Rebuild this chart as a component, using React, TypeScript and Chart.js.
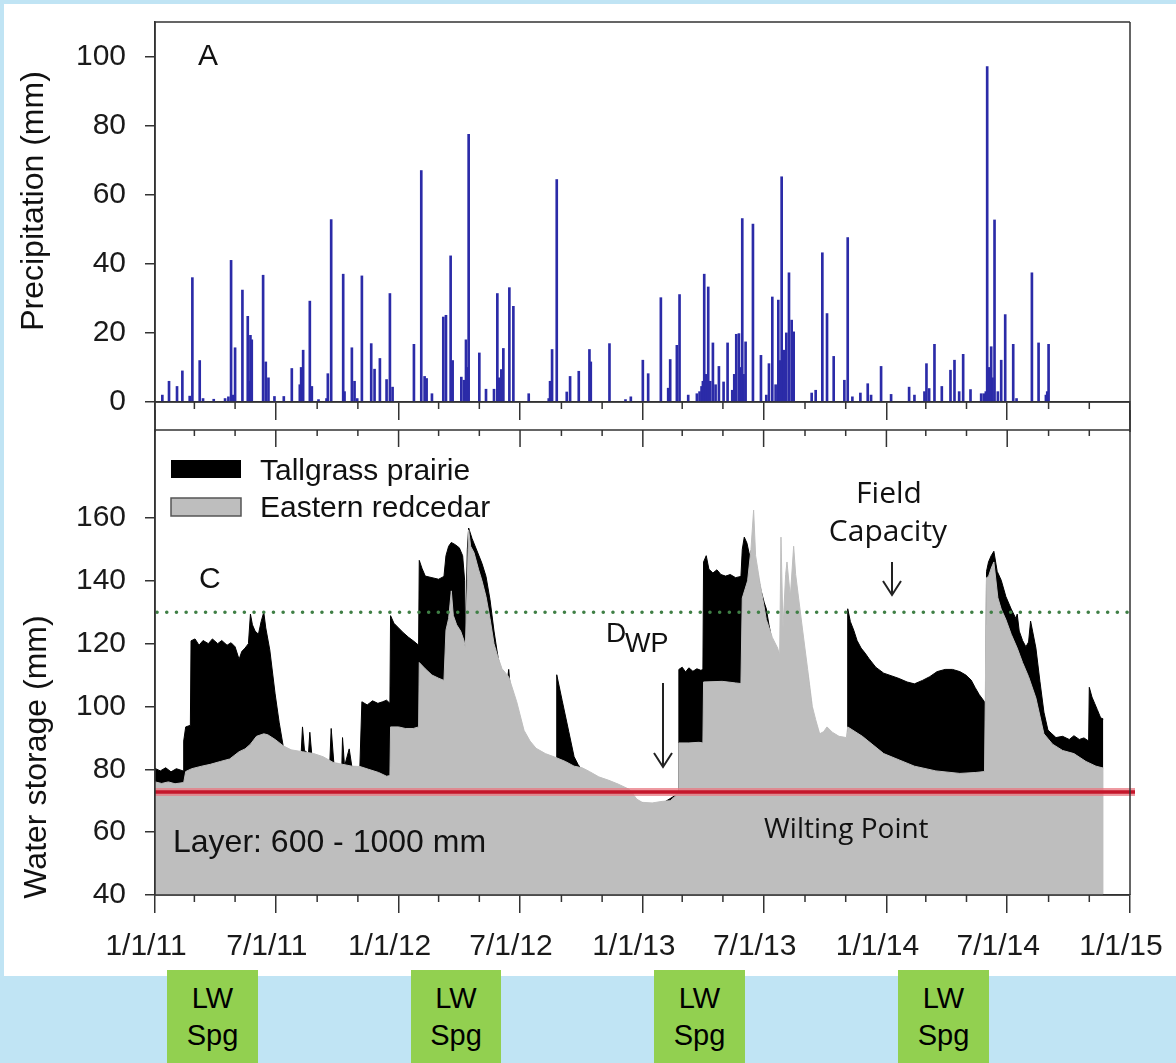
import React, { useEffect, useRef } from 'react';
import { Chart, registerables } from 'chart.js';

Chart.register(...registerables);

const FONT = '"Liberation Sans", Arial, Helvetica, sans-serif';
const NOTE_FONT = '"Open Sans", "Noto Sans", sans-serif';
const AXIS = '#333333';
const TEXT = '#111111';

// ---- axes (days since 1/1/2011) ----
const majorTickDays = [0, 181, 365, 547, 731, 912, 1096, 1277, 1461];
const majorTickLabels = ['1/1/11', '7/1/11', '1/1/12', '7/1/12', '1/1/13', '7/1/13', '1/1/14', '7/1/14', '1/1/15'];
const minorTickDays = [59, 120, 243, 304, 425, 486, 609, 670, 790, 851, 974, 1035, 1155, 1216, 1339, 1400];
const precipTicks = [0, 20, 40, 60, 80, 100];
const storageTicks = [40, 60, 80, 100, 120, 140, 160];

// ---- panel A: daily precipitation (mm) ----
const precipDays = [11, 21, 33, 41, 52, 56, 67, 72, 88, 105, 110, 114, 117, 120, 131, 139, 141, 143, 145, 162, 166, 170, 179, 193, 205, 217, 219, 222, 232, 235, 245, 257, 259, 264, 282, 284, 295, 299, 303, 310, 324, 329, 337, 347, 352, 356, 388, 399, 404, 407, 415, 432, 436, 443, 446, 459, 463, 466, 468, 470, 486, 496, 508, 513, 516, 519, 522, 531, 537, 560, 590, 592, 595, 602, 617, 622, 635, 651, 653, 681, 705, 713, 731, 739, 758, 769, 772, 782, 786, 799, 812, 816, 819, 821, 823, 826, 829, 832, 836, 840, 845, 852, 858, 865, 868, 871, 875, 878, 880, 882, 885, 896, 908, 916, 920, 925, 930, 934, 936, 939, 942, 946, 950, 954, 957, 984, 990, 1000, 1007, 1017, 1033, 1038, 1045, 1057, 1068, 1073, 1088, 1103, 1130, 1138, 1153, 1156, 1160, 1168, 1179, 1192, 1198, 1205, 1211, 1222, 1238, 1242, 1245, 1247, 1250, 1253, 1255, 1258, 1263, 1268, 1274, 1286, 1291, 1314, 1324, 1335, 1337, 1339];
const precipVals = [2, 6, 4.5, 9, 1.7, 36, 12, 1, 0.8, 1, 1.5, 41, 2, 15.7, 32.4, 24.8, 6, 19.3, 18, 36.7, 11.6, 7, 1.6, 1.6, 9.7, 5, 10, 15, 29.2, 4.5, 0.7, 1, 8.2, 52.8, 37, 3, 15.7, 6, 1, 36.5, 16.9, 9.5, 12.6, 6.5, 31.4, 4.3, 16.7, 67, 7.4, 6.8, 2.4, 24.6, 25.1, 42.3, 12, 7.2, 6.3, 18, 10, 77.5, 14.2, 3.7, 3.7, 31.4, 7, 9.4, 15.5, 33.1, 27.7, 2.4, 1, 6, 15.2, 64.4, 2.9, 7.4, 8.9, 15.2, 11.6, 16.9, 0.7, 1.5, 12.1, 8.2, 30.2, 4, 12.3, 16.4, 31.1, 2, 2.4, 3, 4.5, 6, 37, 8, 33.3, 6, 17.1, 5, 10.3, 5.8, 17.1, 3.4, 8, 19.6, 19.8, 10, 53.1, 8, 17.4, 51.5, 13.5, 2, 11.1, 30.4, 5, 29.5, 12, 65.2, 15, 20, 37.4, 23.7, 20.3, 2.6, 3.4, 43.2, 25.6, 13.2, 6.3, 47.6, 1.5, 2.6, 5.3, 2, 10.3, 2.2, 4.3, 2, 3, 11.1, 3.9, 16.7, 4.5, 9.2, 12.1, 3, 13.8, 3.6, 2.4, 2.4, 3, 97.1, 10, 16, 7, 52.7, 3, 12.1, 25.3, 16.7, 1, 37.4, 17.1, 2, 3, 16.7];

// ---- panel C: water storage 600-1000 mm (mm) ----
const cedarDays = [0, 10, 20, 30, 43, 46, 55, 70, 83, 98, 112, 126, 135, 143, 152, 163, 169, 180, 192, 204, 221, 238, 252, 267, 281, 295, 307, 320, 335, 347, 352, 353, 365, 375, 387, 395, 396, 405, 415, 425, 433, 436, 440, 444, 447, 452, 458, 463, 465, 468, 470, 473, 478, 485, 490, 496, 502, 508, 513, 520, 530, 542, 553, 562, 571, 585, 599, 615, 628, 640, 651, 665, 680, 694, 711, 715, 722, 730, 745, 760, 772, 780, 784, 785, 800, 815, 821, 822, 850, 870, 878, 880, 888, 893, 897, 900, 906, 916, 925, 933, 936, 938, 941, 945, 947, 952, 957, 960, 970, 978, 985, 990, 996, 1002, 1007, 1015, 1025, 1036, 1038, 1060, 1092, 1115, 1138, 1170, 1206, 1230, 1243, 1246, 1249, 1253, 1257, 1263, 1268, 1275, 1283, 1292, 1300, 1309, 1320, 1332, 1345, 1360, 1377, 1395, 1410, 1421];
const cedarVals = [76, 75.5, 76, 75.4, 75.8, 79.3, 80.2, 81, 81.6, 82.5, 83.3, 85.6, 86.5, 88, 90.5, 91.3, 91, 89.5, 87.5, 86.2, 85.6, 85, 84, 82.2, 81.6, 81, 80.9, 80, 79, 77.8, 78, 93.5, 93.5, 93, 93, 93.5, 114, 112, 110, 109, 108.3, 124.3, 128, 136.8, 129, 126, 124, 121, 118.6, 140, 156.2, 151, 149, 143.5, 140, 135, 128, 120, 116.3, 112, 109.5, 101.5, 92.4, 89, 86.7, 85, 83.9, 82.5, 81, 80.5, 79.3, 77.6, 76.5, 75.3, 73.6, 72.5, 70.5, 69.5, 69.3, 69.8, 70, 71.5, 73, 88.4, 88.4, 88.6, 88.4, 107.8, 108, 107.5, 107.3, 134.5, 140, 150, 162.5, 148, 140, 127.7, 122, 118.6, 116.3, 153.9, 125, 142, 146, 135, 151, 142, 125, 111.8, 100, 95.8, 91.3, 92, 93.5, 91.8, 90.5, 90.1, 93.5, 90.5, 85, 83, 81, 79.5, 78.7, 79, 79.3, 141, 141.4, 144, 146, 134.6, 131, 127.7, 123, 118.6, 114, 109.5, 102.7, 91.3, 88, 86, 85, 82.5, 81, 80.4];

const prairieDays = [0, 8, 16, 24, 32, 42, 43, 46, 53, 54, 60, 66, 72, 80, 86, 94, 100, 108, 114, 120, 126, 130, 135, 140, 143, 146, 150, 155, 159, 163, 166, 172, 180, 186, 192, 200, 219, 221, 224, 230, 232, 235, 262, 264, 268, 280, 281, 284, 291, 295, 306, 307, 310, 318, 326, 334, 341, 347, 352, 353, 358, 365, 372, 380, 387, 395, 396, 400, 405, 415, 425, 433, 436, 440, 444, 450, 456, 461, 464, 465, 466, 468, 470, 475, 485, 490, 496, 502, 508, 513, 518, 528, 530, 532, 542, 553, 571, 599, 601, 602, 610, 620, 628, 634, 640, 651, 694, 722, 740, 759, 782, 784, 785, 790, 795, 800, 806, 812, 818, 821, 822, 826, 830, 836, 842, 848, 855, 862, 870, 878, 880, 883, 887, 891, 894, 898, 903, 908, 913, 916, 920, 925, 933, 936, 940, 950, 960, 970, 978, 985, 990, 996, 1007, 1015, 1025, 1037, 1038, 1042, 1047, 1052, 1058, 1064, 1070, 1080, 1092, 1103, 1115, 1127, 1138, 1150, 1161, 1172, 1184, 1195, 1206, 1215, 1223, 1229, 1235, 1243, 1245, 1246, 1249, 1253, 1257, 1262, 1268, 1275, 1283, 1290, 1292, 1295, 1300, 1305, 1309, 1312, 1315, 1320, 1326, 1332, 1338, 1344, 1350, 1360, 1370, 1377, 1385, 1392, 1399, 1400, 1404, 1408, 1412, 1417, 1421];
const prairieVals = [80.3, 79.5, 80.5, 79.2, 80.2, 79.5, 89, 93.5, 94, 120.9, 121.5, 119.5, 121, 120, 121.5, 120, 121, 119.5, 120.3, 119, 115, 117.5, 118.6, 120, 129.4, 126, 124, 123, 127, 130, 125, 118, 104, 95, 87.5, 85.5, 85, 93.5, 86, 85, 91.8, 84.5, 82.5, 93, 82, 81.3, 90.1, 81, 86.5, 80.8, 80.5, 81, 101.5, 100.5, 101.8, 101, 101.5, 102, 101, 128.9, 126.5, 125, 123.5, 122, 120.9, 119.5, 146.5, 144, 141.5, 141, 140.5, 141.4, 148, 151, 152.2, 151.5, 150.5, 148, 140, 119, 119, 150, 156.8, 153.5, 148.2, 145.5, 141.4, 134, 124, 117, 111, 108, 111.8, 107, 100, 91, 85.5, 83, 83, 110.1, 102, 92, 84, 81.5, 79.8, 78.5, 74.5, 70, 68.5, 69, 72, 72.5, 111.8, 112.5, 111, 112.3, 111.2, 112, 111.5, 111.8, 146, 148, 143.7, 142.5, 143.5, 142, 141.5, 142, 141, 141.4, 150, 153.9, 152, 148, 150, 146, 142, 137, 133, 131.1, 126, 120.5, 117.5, 115.5, 115, 118, 125, 118, 110, 98, 94.5, 90.5, 92.5, 91, 89.5, 89.3, 131.1, 127, 124.3, 121, 118.6, 117, 115.2, 112.5, 110.6, 109.8, 108.9, 107.8, 107.2, 108.3, 109.5, 111.1, 111.8, 111.8, 111.1, 110, 108.4, 106, 103.8, 101.5, 101, 143, 146, 148, 149.4, 143, 140.2, 135, 131, 128, 129.4, 124, 121, 119, 120.5, 127.2, 124, 118.6, 108, 98.2, 92.5, 91.3, 90.1, 90.5, 89.5, 90.7, 89.5, 90, 89, 106.1, 103, 101, 99, 96.4, 96];

const wiltingPoint = 72.8;
const fieldCapacity = 130;

const springBoxes = [
  { left: 167, width: 91 },
  { left: 411, width: 90 },
  { left: 654, width: 91 },
  { left: 898, width: 91 },
];

const toXY = (days: number[], vals: number[]) => days.map((d, i) => ({ x: d, y: vals[i] }));

const zeroPad = (s: any) => {
  s.paddingTop = 0;
  s.paddingBottom = 0;
  s.paddingLeft = 0;
  s.paddingRight = 0;
};

function arrowDown(ctx: CanvasRenderingContext2D, x: number, y0: number, y1: number) {
  ctx.beginPath();
  ctx.moveTo(x, y0);
  ctx.lineTo(x, y1);
  ctx.moveTo(x - 9, y1 - 14);
  ctx.lineTo(x, y1);
  ctx.lineTo(x + 9, y1 - 14);
  ctx.stroke();
}

const panelAPlugin = {
  id: 'panelA',
  afterDraw(chart: any) {
    const { ctx, chartArea } = chart;
    const { left, right, top, bottom } = chartArea;
    const xs = chart.scales.x;
    ctx.save();
    ctx.strokeStyle = AXIS;
    ctx.lineWidth = 1.5;
    ctx.beginPath();
    ctx.moveTo(left, bottom);
    ctx.lineTo(right, bottom);
    ctx.moveTo(left, top);
    ctx.lineTo(right, top);
    ctx.moveTo(right, top);
    ctx.lineTo(right, chart.height);
    ctx.moveTo(left, top);
    ctx.lineTo(left, chart.height);
    minorTickDays.forEach((d) => {
      const p = xs.getPixelForValue(d);
      ctx.moveTo(p, bottom);
      ctx.lineTo(p, bottom + 7);
    });
    ctx.stroke();

    ctx.fillStyle = TEXT;
    ctx.font = '30px ' + FONT;
    ctx.textAlign = 'left';
    ctx.textBaseline = 'alphabetic';
    ctx.fillText('A', 198, 65);

    ctx.translate(34, 201);
    ctx.rotate(-Math.PI / 2);
    ctx.textAlign = 'center';
    ctx.textBaseline = 'middle';
    ctx.font = '32px ' + FONT;
    ctx.fillText('Precipitation (mm)', 0, 0);
    ctx.restore();
  },
};

const panelCPlugin = {
  id: 'panelC',
  afterDraw(chart: any) {
    const { ctx, chartArea } = chart;
    const { left, right, top, bottom } = chartArea;
    const xs = chart.scales.x;
    const ys = chart.scales.y;
    ctx.save();

    // wilting point (red) and field capacity (green dotted)
    const yWP = ys.getPixelForValue(wiltingPoint);
    ctx.lineCap = 'butt';
    ctx.strokeStyle = 'rgba(232, 120, 130, 0.75)';
    ctx.lineWidth = 8;
    ctx.beginPath();
    ctx.moveTo(left, yWP);
    ctx.lineTo(right + 5, yWP);
    ctx.stroke();
    ctx.strokeStyle = '#C5162B';
    ctx.lineWidth = 3.5;
    ctx.beginPath();
    ctx.moveTo(left, yWP);
    ctx.lineTo(right + 5, yWP);
    ctx.stroke();

    const yFC = ys.getPixelForValue(fieldCapacity);
    ctx.strokeStyle = '#3F7F45';
    ctx.lineWidth = 3.5;
    ctx.lineCap = 'round';
    ctx.setLineDash([0.1, 9.6]);
    ctx.beginPath();
    ctx.moveTo(left + 2, yFC);
    ctx.lineTo(right, yFC);
    ctx.stroke();
    ctx.setLineDash([]);
    ctx.lineCap = 'butt';

    // frame and ticks
    ctx.strokeStyle = AXIS;
    ctx.lineWidth = 1.5;
    ctx.beginPath();
    ctx.moveTo(left, 0);
    ctx.lineTo(left, bottom);
    ctx.lineTo(right, bottom);
    ctx.moveTo(left, top);
    ctx.lineTo(right, top);
    ctx.moveTo(right, 0);
    ctx.lineTo(right, bottom);
    majorTickDays.forEach((d) => {
      const p = xs.getPixelForValue(d);
      ctx.moveTo(p, top);
      ctx.lineTo(p, top + 17);
    });
    minorTickDays.forEach((d) => {
      const p = xs.getPixelForValue(d);
      ctx.moveTo(p, top);
      ctx.lineTo(p, top + 6);
      ctx.moveTo(p, bottom);
      ctx.lineTo(p, bottom + 7);
    });
    ctx.stroke();

    // legend
    ctx.fillStyle = '#000';
    ctx.fillRect(171, 50, 70, 18);
    ctx.fillStyle = '#BEBEBE';
    ctx.fillRect(171, 88, 70, 18);
    ctx.strokeStyle = '#555';
    ctx.lineWidth = 1.5;
    ctx.strokeRect(171, 88, 70, 18);
    ctx.fillStyle = TEXT;
    ctx.font = '30px ' + FONT;
    ctx.textAlign = 'left';
    ctx.textBaseline = 'alphabetic';
    ctx.fillText('Tallgrass prairie', 260, 70);
    ctx.fillText('Eastern redcedar', 260, 107);

    // panel letter and layer note
    ctx.fillText('C', 199, 178);
    ctx.font = '32px ' + FONT;
    ctx.fillText('Layer: 600 - 1000 mm', 173, 442);

    // D_WP
    ctx.font = '28px ' + FONT;
    ctx.fillText('D', 606, 232);
    ctx.font = '27px ' + FONT;
    ctx.fillText('WP', 625, 242);
    ctx.strokeStyle = '#222';
    ctx.lineWidth = 2;
    arrowDown(ctx, 663, 273, 357);

    // field capacity / wilting point notes
    ctx.font = '30px ' + NOTE_FONT;
    ctx.textAlign = 'center';
    ctx.fillText('Field', 889, 93);
    ctx.fillText('Capacity', 888, 131);
    arrowDown(ctx, 892, 152, 185);
    ctx.textAlign = 'left';
    ctx.font = '28px ' + NOTE_FONT;
    ctx.fillText('Wilting Point', 764, 428);

    // y title
    ctx.translate(37, 347);
    ctx.rotate(-Math.PI / 2);
    ctx.textAlign = 'center';
    ctx.textBaseline = 'middle';
    ctx.font = '32px ' + FONT;
    ctx.fillText('Water storage (mm)', 0, 0);
    ctx.restore();
  },
};

export default function App() {
  const aRef = useRef<HTMLCanvasElement>(null);
  const cRef = useRef<HTMLCanvasElement>(null);

  useEffect(() => {
    Chart.defaults.font.family = FONT;
    Chart.defaults.color = '#1a1a1a';

    const chartA = new Chart(aRef.current as HTMLCanvasElement, {
      type: 'bar',
      data: {
        datasets: [
          {
            data: toXY(precipDays, precipVals) as any,
            backgroundColor: '#2B2BA8',
            borderWidth: 0,
            barThickness: 2,
          } as any,
        ],
      },
      options: {
        animation: false,
        responsive: false,
        devicePixelRatio: 1,
        events: [],
        layout: { padding: { top: 22, right: 46, left: 0, bottom: 0 } },
        plugins: { legend: { display: false }, tooltip: { enabled: false } },
        scales: {
          x: {
            type: 'linear',
            min: 0,
            max: 1461,
            offset: false,
            afterBuildTicks: (s: any) => {
              s.ticks = majorTickDays.map((v) => ({ value: v }));
            },
            afterFit: (s: any) => {
              s.height = 30;
              zeroPad(s);
            },
            ticks: { display: false },
            grid: { offset: false, drawOnChartArea: false, drawTicks: true, tickLength: 18, color: AXIS, lineWidth: 1.5 },
            border: { display: true, color: AXIS, width: 1.5 },
          },
          y: {
            type: 'linear',
            min: 0,
            max: 110,
            afterBuildTicks: (s: any) => {
              s.ticks = precipTicks.map((v) => ({ value: v }));
            },
            afterFit: (s: any) => {
              s.width = 155;
              zeroPad(s);
            },
            ticks: { padding: 19, font: { size: 30, family: FONT }, color: '#1a1a1a' },
            grid: { drawOnChartArea: false, tickLength: 10, color: AXIS, lineWidth: 1.5 },
            border: { display: true, color: AXIS, width: 1.5 },
          },
        },
      } as any,
      plugins: [panelAPlugin],
    });

    const chartC = new Chart(cRef.current as HTMLCanvasElement, {
      type: 'line',
      data: {
        datasets: [
          {
            label: 'Eastern redcedar',
            data: toXY(cedarDays, cedarVals) as any,
            fill: 'start',
            backgroundColor: '#BEBEBE',
            borderColor: '#BEBEBE',
            borderWidth: 1,
            pointRadius: 0,
            tension: 0,
            order: 1,
          },
          {
            label: 'Tallgrass prairie',
            data: toXY(prairieDays, prairieVals) as any,
            fill: 'start',
            backgroundColor: '#000000',
            borderColor: '#000000',
            borderWidth: 1,
            pointRadius: 0,
            tension: 0,
            order: 2,
          },
        ],
      },
      options: {
        animation: false,
        responsive: false,
        devicePixelRatio: 1,
        events: [],
        layout: { padding: { top: 20, right: 46, left: 0, bottom: 0 } },
        plugins: { legend: { display: false }, tooltip: { enabled: false } },
        scales: {
          x: {
            type: 'linear',
            min: 0,
            max: 1461,
            afterBuildTicks: (s: any) => {
              s.ticks = majorTickDays.map((v) => ({ value: v }));
            },
            afterFit: (s: any) => {
              s.height = 81;
              zeroPad(s);
            },
            ticks: {
              autoSkip: false,
              maxRotation: 0,
              minRotation: 0,
              padding: 16,
              labelOffset: -9,
              font: { size: 30, family: FONT },
              color: '#1a1a1a',
              callback: (v: any) => {
                const i = majorTickDays.indexOf(Number(v));
                return i >= 0 ? majorTickLabels[i] : '';
              },
            },
            grid: { drawOnChartArea: false, drawTicks: true, tickLength: 18, color: AXIS, lineWidth: 1.5 },
            border: { display: true, color: AXIS, width: 1.5 },
          },
          y: {
            type: 'linear',
            min: 40,
            max: 188,
            afterBuildTicks: (s: any) => {
              s.ticks = storageTicks.map((v) => ({ value: v }));
            },
            afterFit: (s: any) => {
              s.width = 155;
              zeroPad(s);
            },
            ticks: { padding: 19, font: { size: 30, family: FONT }, color: '#1a1a1a' },
            grid: { drawOnChartArea: false, tickLength: 10, color: AXIS, lineWidth: 1.5 },
            border: { display: true, color: AXIS, width: 1.5 },
          },
        },
      } as any,
      plugins: [panelCPlugin],
    });

    return () => {
      chartA.destroy();
      chartC.destroy();
    };
  }, []);

  return (
    <div style={{ position: 'absolute', left: 0, top: 0, width: 1176, height: 1063, background: '#C0E4F4', overflow: 'hidden' }}>
      <div style={{ position: 'absolute', left: 4, top: 4, width: 1172, height: 972, background: '#FFFFFF' }} />
      <canvas ref={aRef} width={1176} height={432} style={{ position: 'absolute', left: 0, top: 0, width: 1176, height: 432 }} />
      <canvas ref={cRef} width={1176} height={566} style={{ position: 'absolute', left: 0, top: 410, width: 1176, height: 566 }} />
      {springBoxes.map((b, i) => (
        <div
          key={i}
          style={{
            position: 'absolute',
            left: b.left,
            top: 970,
            width: b.width,
            height: 93,
            background: '#92D050',
            display: 'flex',
            flexDirection: 'column',
            alignItems: 'center',
            justifyContent: 'center',
            fontFamily: FONT,
            fontSize: 29,
            lineHeight: '37px',
            color: '#000',
          }}
        >
          <div>LW</div>
          <div>Spg</div>
        </div>
      ))}
    </div>
  );
}
